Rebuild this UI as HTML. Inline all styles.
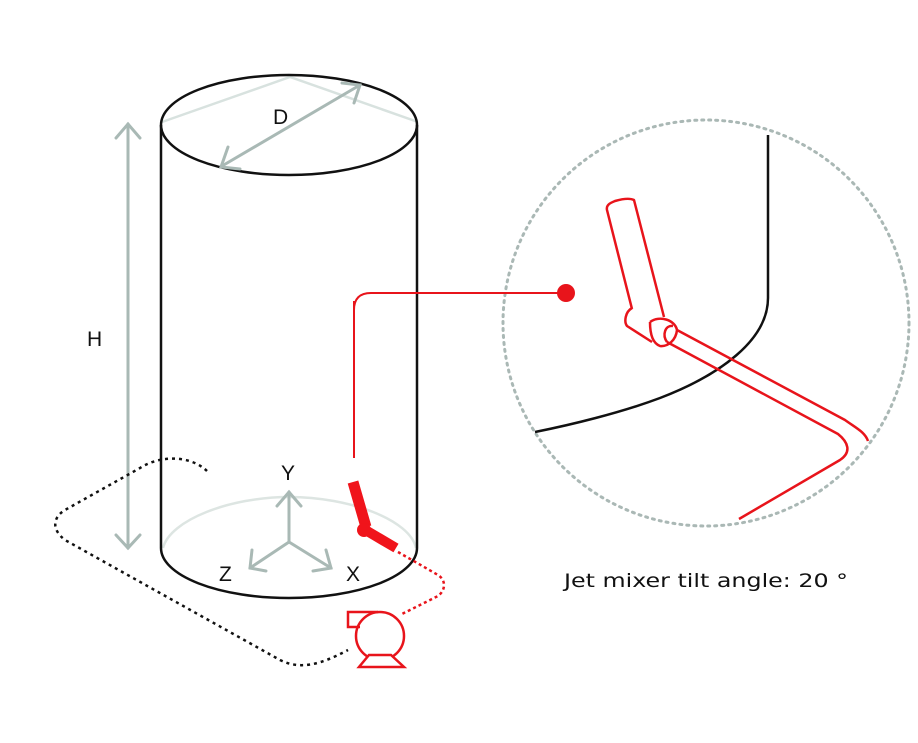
<!DOCTYPE html>
<html><head><style>html,body{margin:0;padding:0;background:#fff}svg{display:block}</style></head>
<body>
<svg width="918" height="743" viewBox="0 0 918 743" xmlns="http://www.w3.org/2000/svg" font-family="Liberation Sans, sans-serif">
<circle cx="706" cy="323" r="203" fill="none" stroke="#aab8b5" stroke-width="3" stroke-dasharray="2 5" stroke-linecap="round"/>
<polyline points="162,122 290,77 418,122" fill="none" stroke="#d8e2df" stroke-width="2.5"/>
<path d="M163,548 C170,520 230,497 289,497 C350,497 410,520 416,548" fill="none" stroke="#dde5e2" stroke-width="2.5"/>
<ellipse cx="289" cy="125" rx="128" ry="50" fill="none" stroke="#111" stroke-width="2.5"/>
<path d="M161,125 L161,548 A128,50 0 0 0 417,548 L417,125" fill="none" stroke="#111" stroke-width="2.5"/>
<g stroke="#a9b9b5" stroke-width="3" fill="none" stroke-linecap="round">
<line x1="222" y1="166" x2="360" y2="85"/>
<polyline points="228,147 221,167 240,169"/>
<polyline points="342,83 360,85 354,103"/>
<line x1="128" y1="124" x2="128" y2="548"/>
<polyline points="116,138 128,124 140,138"/>
<polyline points="116,535 128,548 140,535"/>
<line x1="289" y1="542" x2="289" y2="492"/>
<polyline points="277,506 289,492 301,506"/>
<line x1="289" y1="542" x2="250" y2="568"/>
<polyline points="252,550 250,568 266,571"/>
<line x1="289" y1="542" x2="331" y2="568"/>
<polyline points="326,550 331,568 313,571"/>
</g>
<text x="273" y="124" font-size="21" fill="#111">D</text>
<text x="87" y="346" font-size="21" fill="#111">H</text>
<text x="281" y="480" font-size="21" fill="#111">Y</text>
<text x="219" y="581" font-size="21" fill="#111">Z</text>
<text x="346" y="581" font-size="21" fill="#111">X</text>
<path d="M207,471 C190,455 160,455 140,468 L65,510 C52,518 52,530 65,540 L280,660 C300,670 320,665 348,650" fill="none" stroke="#111" stroke-width="2.5" stroke-dasharray="3 4"/>
<path d="M398,552 L438,575 C446,580 446,590 438,596 L402,614" fill="none" stroke="#e8141b" stroke-width="2.5" stroke-dasharray="3 3"/>
<g stroke="#f0141b" fill="none">
<line x1="353" y1="482" x2="366" y2="527" stroke-width="11"/>
<line x1="362" y1="528" x2="396" y2="548" stroke-width="10"/>
</g>
<circle cx="364" cy="530" r="7" fill="#f0141b"/>
<line x1="354" y1="301" x2="354" y2="458" stroke="#e8141b" stroke-width="2"/>
<path d="M354,310 Q354,293 371,293 L566,293" fill="none" stroke="#e8141b" stroke-width="2"/>
<circle cx="566" cy="293" r="9" fill="#e8141b"/>
<g fill="none" stroke="#e8141b" stroke-width="2.5">
<circle cx="380" cy="636" r="24"/>
<path d="M378,612 L348,612 L348,627 L360,627"/>
<polygon points="369,655 391,655 404,667 359,667" fill="#fff"/>
</g>
<path d="M768,135 L768,298 C768,340 720,375 660,398 C620,413 570,425 535,432" fill="none" stroke="#111" stroke-width="2.5"/>
<g fill="none" stroke="#e8141b" stroke-width="2.5" stroke-linejoin="round">
<path d="M632,309 L607,210 C606,205 610,203 615,201 C622,199 630,198 634,200 L664,317"/>
<path d="M632,308 C625,312 624,322 627,326 L652,342"/>
<path d="M650,322 C660,315 675,320 677,330 C676,340 668,347 660,346 C652,343 650,332 650,322"/>
<path d="M677,330 L845,420 C856,428 865,432 868,441"/>
<path d="M667,342 C662,335 665,325 673,326"/>
<path d="M667,342 L838,434 C848,442 852,452 840,460 L739,519"/>
</g>
<text x="564" y="587" font-size="19" fill="#111" font-family="DejaVu Sans, sans-serif" textLength="284" lengthAdjust="spacingAndGlyphs">Jet mixer tilt angle: 20 °</text>
</svg>
</body></html>
